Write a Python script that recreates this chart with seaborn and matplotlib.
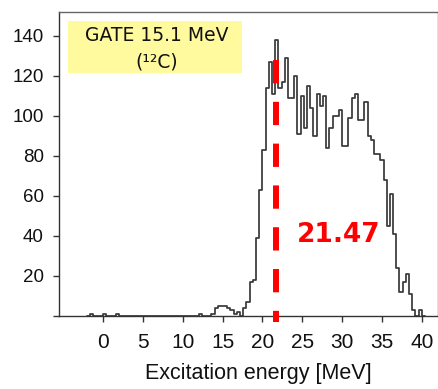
import numpy as np
import pandas as pd
import matplotlib
matplotlib.use("Agg")
import matplotlib.pyplot as plt
from matplotlib.patches import Rectangle
import seaborn as sns

# ---------------- data ----------------
bin_width = 0.4
bin_start = [-1.6, 0.0, 1.6, 12.0,
             13.6, 14.0, 14.4, 14.8, 15.2, 15.6, 16.0, 16.4, 16.8, 17.2,
             17.6, 18.0, 18.4, 18.8, 19.2, 19.6, 20.0,
             20.4, 20.8, 21.2, 21.6, 22.0, 22.4, 22.8, 23.2, 23.6, 24.0,
             24.4, 24.8, 25.2, 25.6, 26.0, 26.4, 26.8, 27.2, 27.6, 28.0,
             28.4, 28.8, 29.2, 29.6, 30.0, 30.4, 30.8, 31.2, 31.6, 32.0,
             32.4, 32.8, 33.2, 33.6, 34.0, 34.4, 34.8, 35.2, 35.6, 36.0,
             36.4, 36.8, 37.2, 37.6, 38.0, 38.4, 38.8, 39.2, 39.6]
counts = [1, 1, 1, 1,
          1, 4, 5, 5, 5, 4, 3, 1, 2, 0,
          4, 7, 17, 18, 39, 63, 83,
          114, 127, 111, 138, 114, 117, 129, 109, 109, 120,
          91, 110, 94, 115, 104, 90, 111, 105, 110, 84,
          94, 100, 100, 103, 85, 85, 99, 109, 111, 98,
          98, 107, 90, 88, 81, 81, 78, 68, 45, 61,
          41, 24, 12, 17, 21, 11, 3, 0, 3]
hist_range = (-2.0, 40.4)

x_ticks = [0, 5, 10, 15, 20, 25, 30, 35, 40]
y_ticks = [0, 20, 40, 60, 80, 100, 120, 140]
y_tick_labels = ["", "20", "40", "60", "80", "100", "120", "140"]
x_label = "Excitation energy [MeV]"
box_line1 = "GATE 15.1 MeV"
box_line2 = "(\u00b9\u00b2C)"
mean_energy = 21.7
mean_label = "21.47"
mean_line_span = [127.8, -3.0]

# ---------------- figure ----------------
sns.set_style("ticks")
sans = ["Liberation Sans", "DejaVu Sans"]
plt.rcParams["font.family"] = sans

fig = plt.figure(figsize=(4.39, 3.89), dpi=100)
ax = fig.add_axes([59 / 439, 1 - 315.7 / 389, (437.7 - 59) / 439, (315.7 - 12) / 389])

df = pd.DataFrame({"energy": np.array(bin_start) + bin_width / 2,
                   "count": np.array(counts, dtype=float)})
sns.histplot(data=df, x="energy", weights="count", binwidth=bin_width,
             binrange=hist_range, element="step", fill=False,
             color="#383838", linewidth=1.25, ax=ax)

ax.plot([mean_energy, mean_energy], mean_line_span, color="#ff0000", lw=4.3,
        linestyle=(0, (3.9, 3.1)), solid_capstyle="butt", clip_on=False, zorder=5)

ax.text(29.55, 40.2, mean_label, color="#ff0000", fontsize=19, fontweight="bold",
        family="DejaVu Sans", ha="center", va="center")

# yellow label box
ax.add_patch(Rectangle((0.024, 0.799), 0.459, 0.171, transform=ax.transAxes,
                       facecolor="#fffa9e", edgecolor="none", zorder=3))
ax.text(0.258, 0.921, box_line1, transform=ax.transAxes, ha="center", va="center",
        fontsize=13.5, family="DejaVu Sans", color="#111111", zorder=4)
ax.text(0.258, 0.836, box_line2, transform=ax.transAxes, ha="center", va="center",
        fontsize=13.5, family="DejaVu Sans", color="#111111", zorder=4)

ax.set_xlim(-5.52, 42.0)
ax.set_ylim(0, 151.9)
ax.set_xticks(x_ticks)
ax.set_yticks(y_ticks)
ax.set_yticklabels(y_tick_labels)
ax.set_ylabel("")
ax.set_xlabel(x_label, fontsize=15.5, family=sans, color="#111111")
ax.xaxis.set_label_coords(0.526, -0.155)

ax.tick_params(axis="x", direction="out", length=4, width=1, colors="#333333",
               labelsize=15, pad=8.5, labelcolor="#111111")
ax.tick_params(axis="y", direction="out", length=4, width=1, colors="#333333",
               labelsize=13.5, pad=7, labelcolor="#111111")
for side in ["left", "bottom"]:
    ax.spines[side].set_color("#333333")
    ax.spines[side].set_linewidth(1.0)
for side in ["top", "right"]:
    ax.spines[side].set_visible(True)
    ax.spines[side].set_color("#666666")
    ax.spines[side].set_linewidth(1.0)

fig.savefig("out.png", dpi=100)
